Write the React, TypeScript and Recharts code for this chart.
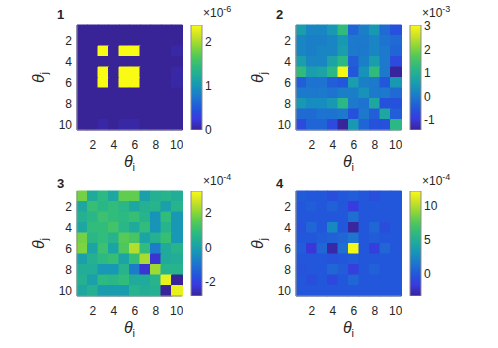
import React from 'react';
import { BarChart, Bar, XAxis, YAxis, Cell } from 'recharts';

// ---------- data ----------
const columnIndex = [1, 2, 3, 4, 5, 6, 7, 8, 9, 10];
const axisTickLabels = [2, 4, 6, 8, 10];
const rowTickPositions = [1.5, 3.5, 5.5, 7.5, 9.5];

// panel 1 (x 1e-6)
const panel1Values = [
  [0, 0, 0, 0, 0, 0, 0, 0, 0, 0],
  [0, 0, 0, 0, 0, 0, 0, 0, 0, 0],
  [0, 0, 2.4, 0, 2.4, 2.4, 0, 0, 0, 0.05],
  [0, 0, 0, 0, 0, 0, 0, 0, 0, 0],
  [0, 0, 2.4, 0, 2.4, 2.4, 0, 0, 0, 0.05],
  [0, 0, 2.4, 0, 2.4, 2.4, 0, 0, 0, 0.05],
  [0, 0, 0, 0, 0, 0, 0, 0, 0, 0],
  [0, 0, 0, 0, 0, 0, 0, 0, 0, 0],
  [0, 0, 0, 0, 0, 0, 0, 0, 0, 0],
  [0, 0, 0.05, 0, 0.05, 0.05, 0, 0, 0, 0],
];
const panel1Range: [number, number] = [0, 2.39];
const panel1ColorbarTicks = [0, 1, 2];

// panel 2 (x 1e-3)
const panel2Values = [
  [0.6, 0.2, 0.2, 0.5, 1.3, -0.3, 0.1, 0.5, -0.2, -0.6],
  [0.2, 0.1, 0.1, 0.2, 0.5, 0.0, 0.0, 0.2, -0.1, -0.2],
  [0.2, 0.1, 0.2, 0.2, 0.6, 0.0, 0.0, 0.2, 0.0, -0.3],
  [0.6, 0.2, 0.2, 0.7, 1.2, -0.4, 0.1, 0.6, 0.0, -0.7],
  [1.3, 0.6, 0.7, 1.2, 3.0, -0.5, 0.4, 1.3, 0.0, -1.4],
  [-0.4, -0.1, -0.1, -0.4, -0.5, 0.6, 0.1, 0.0, -0.5, 0.5],
  [0.0, 0.0, 0.0, -0.1, 0.1, 0.1, 0.4, 0.0, 0.0, -0.2],
  [0.5, 0.3, 0.3, 0.5, 1.2, 0.0, -0.1, 0.8, -0.6, -0.6],
  [-0.2, -0.2, -0.1, -0.1, 0.0, -0.6, 0.0, -0.4, 0.8, -0.4],
  [-0.7, -0.3, -0.3, -0.7, -1.4, 0.5, -0.3, -0.6, -0.6, 1.2],
];
const panel2Range: [number, number] = [-1.43, 3.05];
const panel2ColorbarTicks = [-1, 0, 1, 2, 3];

// panel 3 (x 1e-4)
const panel3Values = [
  [1.8, 0.3, 0.8, 0.2, 1.6, 1.6, 0.0, 0.5, 0.6, 0.4],
  [0.2, 1.0, 0.7, 0.9, 0.7, 0.2, 0.5, 0.6, 0.0, 0.6],
  [0.5, 0.7, 1.1, 0.9, 0.8, 1.0, 0.6, -0.3, 0.9, -0.2],
  [0.2, 0.9, 0.9, 1.2, 0.7, 0.3, 0.9, -0.3, 0.6, -0.2],
  [1.8, 0.7, 0.9, 0.6, 1.5, 1.3, 0.1, 0.5, 1.0, -0.2],
  [1.9, 0.1, 1.1, 0.1, 1.4, 2.4, 0.9, -0.8, 0.3, 0.6],
  [0.0, 0.5, 0.8, 1.0, 0.1, 1.0, 2.3, -2.3, 0.3, 0.4],
  [0.4, 0.4, -0.2, -0.2, 0.6, -0.8, -2.3, 2.2, 0.6, 0.6],
  [0.5, 0.0, 0.8, 0.7, 0.9, 0.3, 0.3, 0.6, 3.0, -2.8],
  [0.2, 0.5, -0.1, -0.1, -0.1, 0.6, 0.4, 0.5, -2.8, 3.0],
];
const panel3Range: [number, number] = [-2.8, 3.25];
const panel3ColorbarTicks = [-2, 0, 2];

// panel 4 (x 1e-4)
const panel4Values = [
  [0.2, 0.0, 0.0, -0.5, 0.0, 0.3, 0.0, -0.5, 0.0, 0.0],
  [0.0, 0.3, 0.0, 0.5, 0.0, -1.5, 0.0, 0.0, 0.0, 0.0],
  [0.0, 0.0, 0.0, 0.0, 0.0, 1.2, 0.0, 0.0, 0.0, 0.0],
  [-0.3, 0.8, 0.0, 2.5, 0.0, -3.0, 0.0, 0.8, -0.5, 0.0],
  [0.0, 0.0, 0.3, 0.5, 0.8, 1.5, 0.0, 0.3, 0.0, 0.0],
  [0.3, -1.8, 0.8, -2.8, 1.2, 12.0, 0.0, -1.3, 0.8, 0.0],
  [0.0, 0.0, 0.0, -0.3, 0.0, 0.3, 0.0, 0.0, 0.0, 0.0],
  [-0.3, 0.0, 0.0, 0.8, 0.3, -1.3, 0.0, 0.5, 0.0, 0.0],
  [0.0, -0.5, 0.0, -0.8, 0.0, 0.8, 0.0, 0.0, 0.0, 0.0],
  [0.0, 0.0, 0.0, 0.0, 0.0, 0.0, 0.0, 0.0, 0.0, 0.0],
];
const panel4Range: [number, number] = [-3.2, 12.2];
const panel4ColorbarTicks = [0, 5, 10];

const panelTitles = ['1', '2', '3', '4'];
const panelExponents = ['-6', '-3', '-4', '-4'];

// ---------- styling ----------
const FONT = '"Liberation Sans", Arial, Helvetica, sans-serif';
const TEXT = '#262626';
const FRAME = '#8f8f8f';

const parulaStops: [number, number, number, number][] = [
  [0.0, 56, 36, 150],
  [0.1, 58, 56, 222],
  [0.2, 35, 85, 220],
  [0.3, 30, 115, 208],
  [0.4, 22, 145, 188],
  [0.5, 30, 168, 160],
  [0.6, 45, 186, 128],
  [0.7, 80, 200, 90],
  [0.8, 140, 215, 55],
  [0.9, 205, 226, 38],
  [1.0, 249, 251, 20],
];

function parula(t: number): string {
  const x = Math.max(0, Math.min(1, t));
  for (let k = 0; k < parulaStops.length - 1; k++) {
    const a = parulaStops[k];
    const b = parulaStops[k + 1];
    if (x <= b[0]) {
      const f = (x - a[0]) / (b[0] - a[0]);
      const r = Math.round(a[1] + f * (b[1] - a[1]));
      const g = Math.round(a[2] + f * (b[2] - a[2]));
      const bl = Math.round(a[3] + f * (b[3] - a[3]));
      return `rgb(${r},${g},${bl})`;
    }
  }
  return 'rgb(249,251,20)';
}

type PanelSpec = {
  values: number[][];
  range: [number, number];
  ticks: number[];
  bx: number;
  by: number;
};

const panels: PanelSpec[] = [
  { values: panel1Values, range: panel1Range, ticks: panel1ColorbarTicks, bx: 77, by: 25 },
  { values: panel2Values, range: panel2Range, ticks: panel2ColorbarTicks, bx: 296, by: 25 },
  { values: panel3Values, range: panel3Range, ticks: panel3ColorbarTicks, bx: 77, by: 191 },
  { values: panel4Values, range: panel4Range, ticks: panel4ColorbarTicks, bx: 296, by: 191 },
];

const BOX = 105;
const YAXIS_W = 45;
const CB_PAD = 9;

function Heatmap({ spec }: { spec: PanelSpec }) {
  const [lo, hi] = spec.range;
  const data = columnIndex.map((i) => {
    const d: Record<string, number> = { i };
    spec.values.forEach((_, r) => {
      d['r' + (r + 1)] = 1;
    });
    return d;
  });
  const tickStyle = { fontSize: 12, fill: TEXT, fontFamily: FONT };
  return (
    <div style={{ position: 'absolute', left: spec.bx - YAXIS_W, top: spec.by - 1 }}>
      <BarChart
        width={YAXIS_W + BOX + 1}
        height={1 + BOX + 50}
        data={data}
        margin={{ top: 1, right: 1, left: 0, bottom: 0 }}
        barCategoryGap={0}
        barGap={0}
      >
        <XAxis
          dataKey="i"
          type="category"
          interval={0}
          tickFormatter={(v: any) => (axisTickLabels.includes(Number(v)) ? String(v) : '')}
          tickLine={false}
          tickSize={3}
          tickMargin={7}
          height={50}
          axisLine={{ stroke: FRAME }}
          tick={tickStyle}
        />
        <XAxis
          xAxisId="top"
          dataKey="i"
          orientation="top"
          height={0}
          tick={false}
          tickLine={false}
          axisLine={{ stroke: FRAME }}
        />
        <YAxis
          type="number"
          domain={[0, 10]}
          reversed
          ticks={rowTickPositions}
          interval={0}
          tickFormatter={(v: any) => String(Number(v) + 0.5)}
          width={YAXIS_W}
          tickLine={false}
          tickSize={3}
          tickMargin={2}
          axisLine={{ stroke: FRAME }}
          tick={tickStyle}
        />
        <YAxis
          yAxisId="right"
          orientation="right"
          type="number"
          domain={[0, 10]}
          width={0}
          tick={false}
          tickLine={false}
          axisLine={{ stroke: FRAME }}
        />
        {spec.values.map((row, r) => (
          <Bar key={r} dataKey={'r' + (r + 1)} stackId="s" isAnimationActive={false}>
            {row.map((v, c) => {
              const col = parula((v - lo) / (hi - lo));
              return <Cell key={c} fill={col} stroke={col} strokeWidth={1} />;
            })}
          </Bar>
        ))}
      </BarChart>
    </div>
  );
}

function Colorbar({ spec, id }: { spec: PanelSpec; id: string }) {
  const data = [{ k: 'c', r: spec.range }];
  return (
    <div style={{ position: 'absolute', left: spec.bx + 114 - 1, top: spec.by - CB_PAD }}>
      <BarChart
        width={1 + 11 + 31}
        height={CB_PAD + BOX + CB_PAD}
        data={data}
        margin={{ top: CB_PAD, right: 0, left: 1, bottom: CB_PAD }}
        barCategoryGap={0}
      >
        <defs>
          <linearGradient id={id} x1="0" y1="1" x2="0" y2="0">
            {parulaStops.map((s, k) => (
              <stop key={k} offset={s[0]} stopColor={`rgb(${s[1]},${s[2]},${s[3]})`} />
            ))}
          </linearGradient>
        </defs>
        <XAxis dataKey="k" hide />
        <YAxis
          orientation="right"
          type="number"
          domain={spec.range}
          allowDataOverflow
          ticks={spec.ticks}
          interval={0}
          width={31}
          tickLine={false}
          axisLine={false}
          tickSize={2}
          tickMargin={1}
          tick={{ fontSize: 12, fill: TEXT, fontFamily: FONT }}
        />
        <Bar dataKey="r" fill={`url(#${id})`} stroke={FRAME} strokeWidth={1} isAnimationActive={false} />
      </BarChart>
    </div>
  );
}

function Annotations() {
  return (
    <svg
      width={498}
      height={348}
      style={{ position: 'absolute', left: 0, top: 0, pointerEvents: 'none' }}
    >
      {panels.map((p, n) => {
        const cx = p.bx + BOX / 2;
        const cy = p.by + BOX / 2;
        const titleX = p.bx - 20;
        const titleY = n < 2 ? p.by - 6 : p.by - 3;
        const expY = n < 2 ? p.by - 8 : p.by - 6;
        return (
          <g key={n} fontFamily={FONT} fill={TEXT}>
            <text x={titleX} y={titleY} fontSize={13} fontWeight="bold">
              {panelTitles[n]}
            </text>
            <text x={cx} y={p.by + BOX + 37} fontSize={16} textAnchor="middle" fontStyle="italic">
              θ
              <tspan fontSize={11} fontStyle="normal" dy={4}>
                i
              </tspan>
            </text>
            <text
              x={p.bx - 33}
              y={cy}
              fontSize={16}
              textAnchor="middle"
              fontStyle="italic"
              transform={`rotate(-90 ${p.bx - 33} ${cy})`}
            >
              θ
              <tspan fontSize={11} fontStyle="normal" dy={4}>
                j
              </tspan>
            </text>
            <text x={p.bx + 126} y={expY} fontSize={12}>
              ×10
              <tspan fontSize={9} dy={-5}>
                {panelExponents[n]}
              </tspan>
            </text>
          </g>
        );
      })}
    </svg>
  );
}

export default function App() {
  return (
    <div style={{ position: 'absolute', left: 0, top: 0, width: 498, height: 348, background: '#fff' }}>
      {panels.map((p, n) => (
        <Heatmap key={'h' + n} spec={p} />
      ))}
      {panels.map((p, n) => (
        <Colorbar key={'c' + n} spec={p} id={'parula' + n} />
      ))}
      <Annotations />
    </div>
  );
}
